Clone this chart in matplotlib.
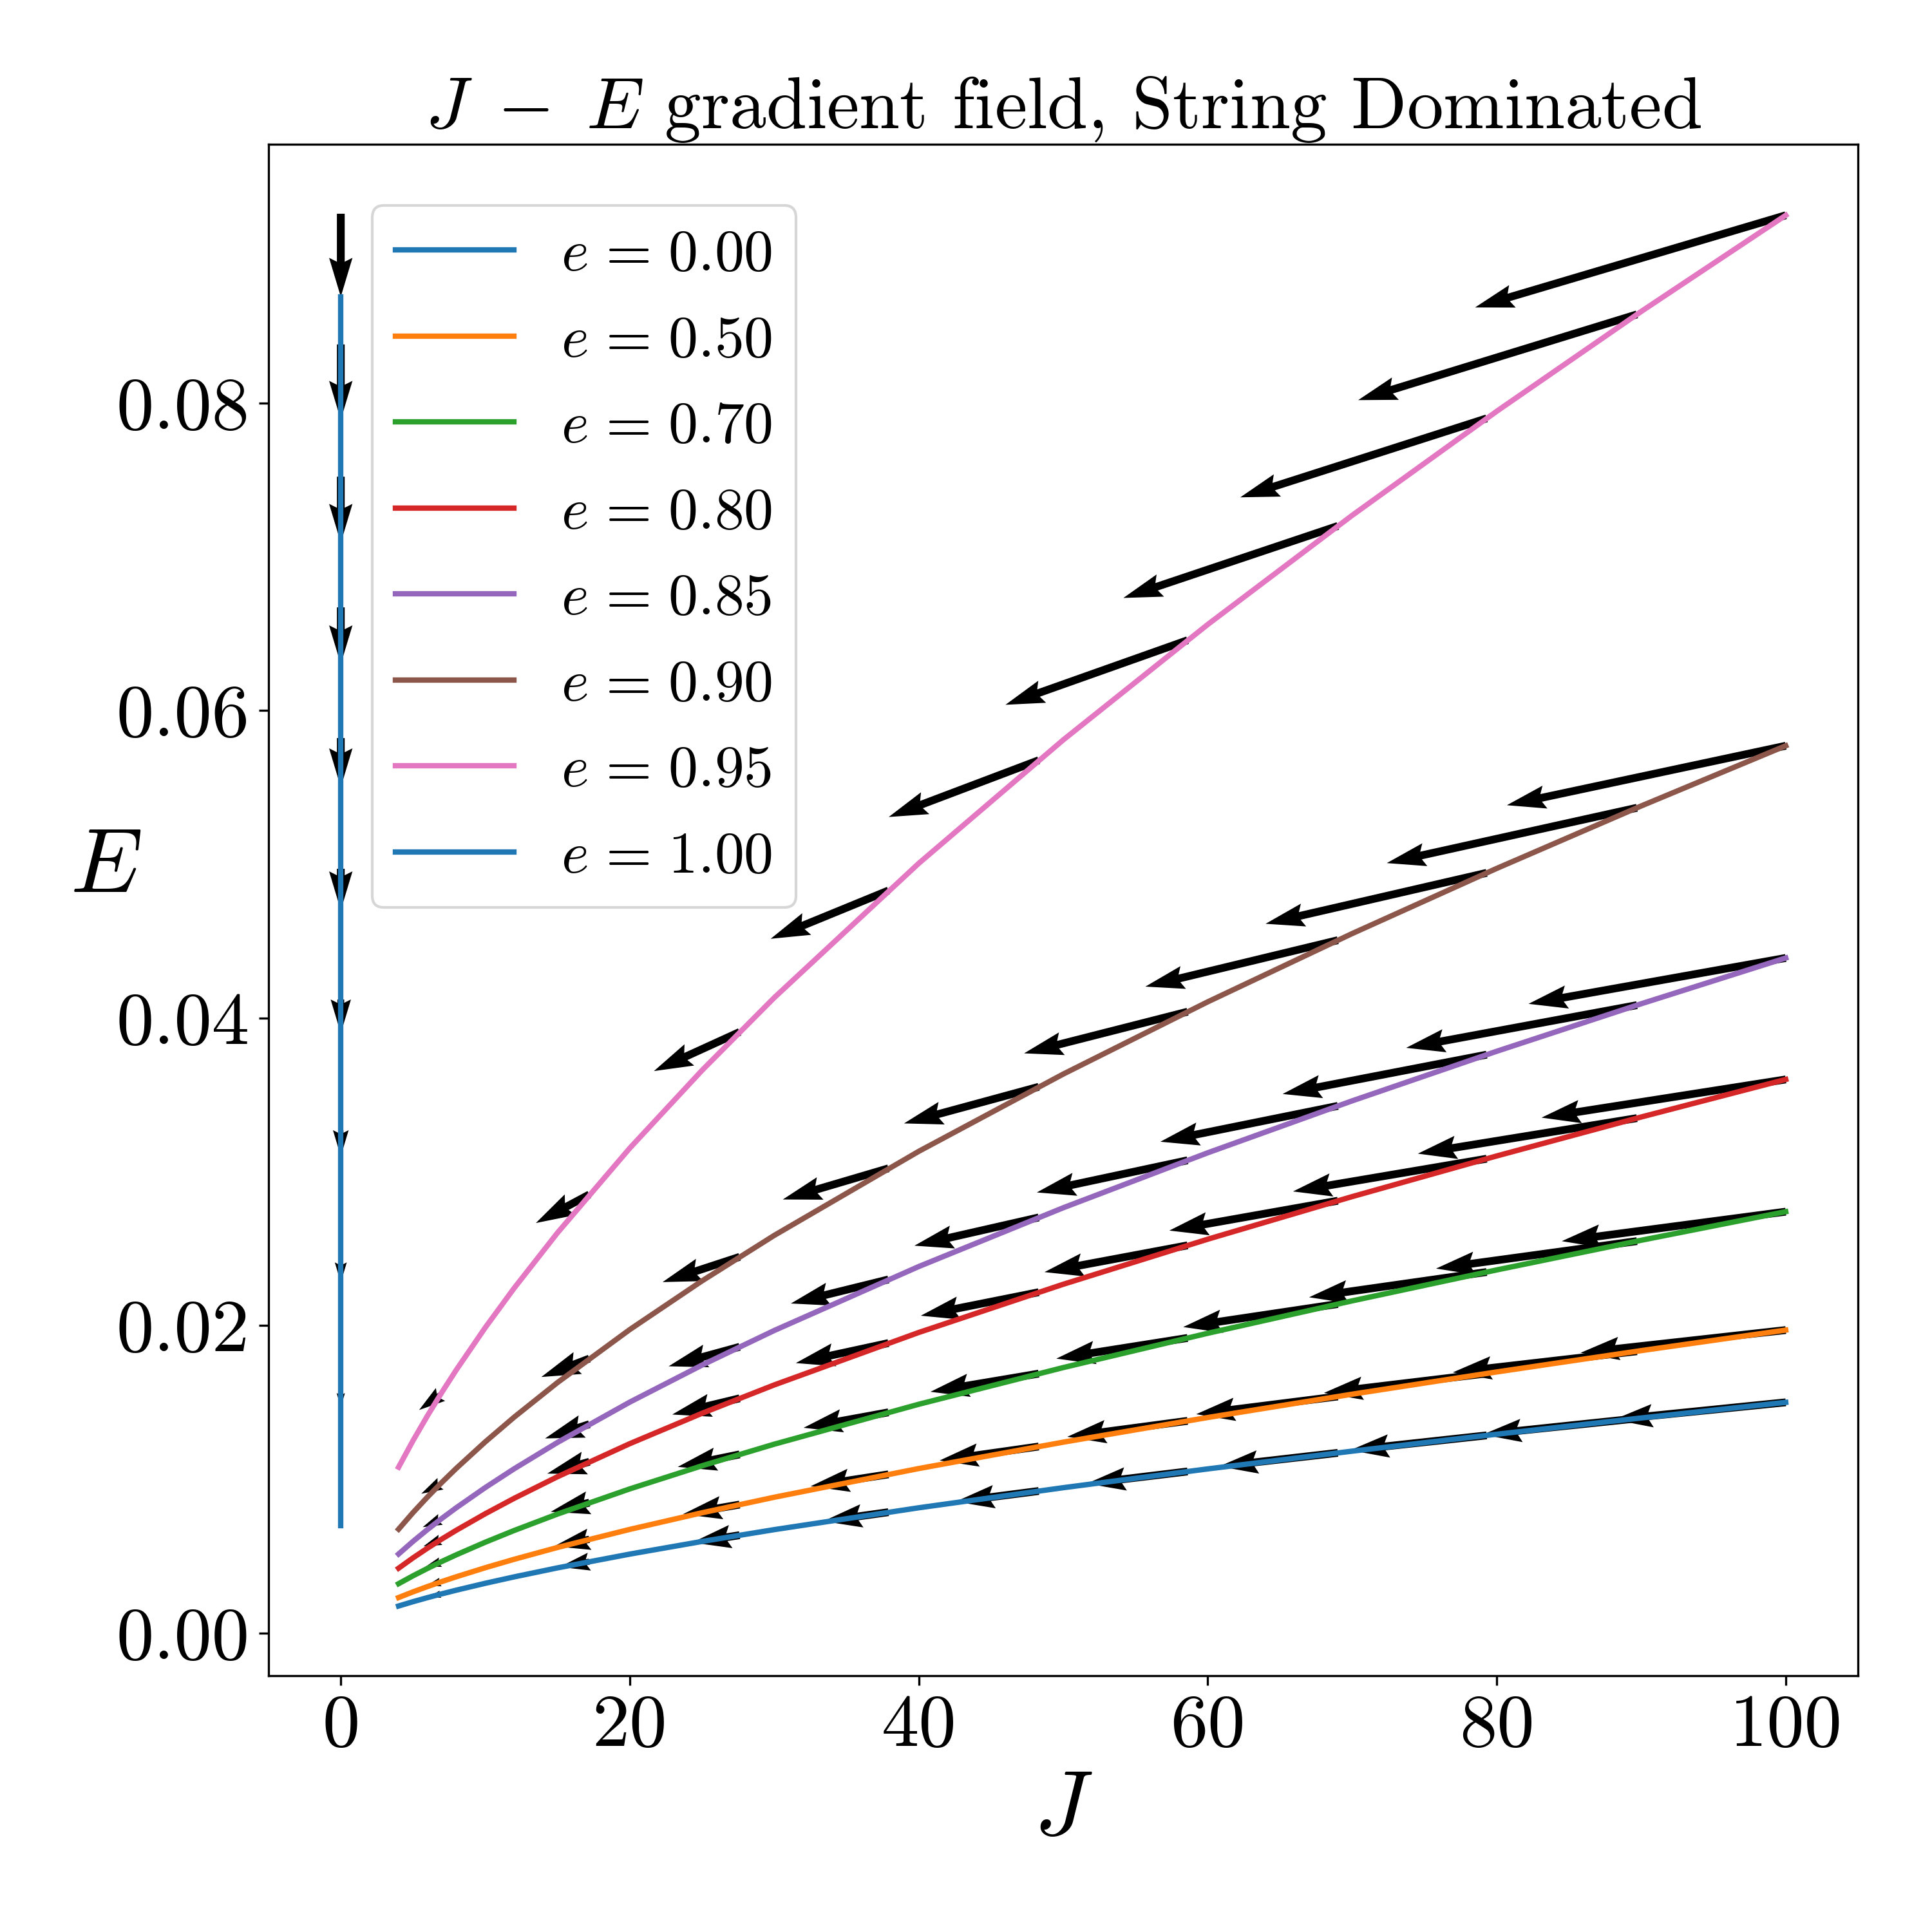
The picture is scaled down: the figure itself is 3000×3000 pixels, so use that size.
import matplotlib
matplotlib.use('Agg')
import matplotlib.pyplot as plt

# Fuente tipo LaTeX (Computer Modern)
plt.rcParams['font.family'] = 'serif'
plt.rcParams['font.serif'] = ['cmr10']
plt.rcParams['mathtext.fontset'] = 'cm'
plt.rcParams['axes.unicode_minus'] = False

# Valores de excentricidad
e_labels = ['0.00', '0.50', '0.70', '0.80', '0.85', '0.90', '0.95']
colors = ['C0', 'C1', 'C2', 'C3', 'C4', 'C5', 'C6']

# Curvas E(J)
J_curve = [4, 5, 6, 7, 8, 10, 12, 15, 20, 25, 30, 40, 50, 60, 70, 80, 90, 100]
E_e000 = [0.001754, 0.002036, 0.002299, 0.002548, 0.002785, 0.003232, 0.003649, 0.004235, 0.005130,
          0.005953, 0.006722, 0.008143, 0.009449, 0.010671, 0.011826, 0.012927, 0.013983, 0.0150]
E_e050 = [0.002304, 0.002674, 0.003019, 0.003346, 0.003658, 0.004244, 0.004793, 0.005562, 0.006737,
          0.007818, 0.008828, 0.010695, 0.012410, 0.014014, 0.015531, 0.016977, 0.018364, 0.0197]
E_e070 = [0.003205, 0.003719, 0.004199, 0.004654, 0.005087, 0.005903, 0.006666, 0.007735, 0.009371,
          0.010874, 0.012279, 0.014875, 0.017261, 0.019492, 0.021601, 0.023612, 0.025541, 0.0274]
E_e080 = [0.004211, 0.004886, 0.005517, 0.006115, 0.006684, 0.007756, 0.008758, 0.010163, 0.012312,
          0.014287, 0.016133, 0.019544, 0.022679, 0.025610, 0.028381, 0.031024, 0.033558, 0.0360]
E_e085 = [0.005135, 0.005958, 0.006728, 0.007456, 0.008150, 0.009458, 0.010680, 0.012393, 0.015014,
          0.017422, 0.019673, 0.023832, 0.027655, 0.031230, 0.034609, 0.037832, 0.040922, 0.0439]
E_e090 = [0.006749, 0.007831, 0.008843, 0.009800, 0.010713, 0.012431, 0.014037, 0.016289, 0.019733,
          0.022898, 0.025858, 0.031324, 0.036349, 0.041047, 0.045489, 0.049724, 0.053786, 0.0577]
E_e095 = [0.010784, 0.012513, 0.014131, 0.015660, 0.017118, 0.019864, 0.022430, 0.026029, 0.031532,
          0.036590, 0.041319, 0.050054, 0.058082, 0.065589, 0.072688, 0.079455, 0.085946, 0.0922]
E_curves = [E_e000, E_e050, E_e070, E_e080, E_e085, E_e090, E_e095]

# Curva e = 1 (J = 0)
J_e100 = [0, 0]
E_e100 = [0.0070, 0.0869]

# Flechas del gradiente sobre cada curva
J_arrow = [6.9, 17.2, 27.6, 37.9, 48.3, 58.6, 69.0, 79.3, 89.7, 100.0]
Ea_e000 = [0.002523, 0.004639, 0.006359, 0.007856, 0.009234, 0.010504, 0.011713, 0.012851, 0.013951, 0.0150]
Ea_e050 = [0.003314, 0.006093, 0.008351, 0.010317, 0.012127, 0.013795, 0.015383, 0.016878, 0.018323, 0.0197]
Ea_e070 = [0.004610, 0.008474, 0.011615, 0.014350, 0.016867, 0.019187, 0.021395, 0.023475, 0.025484, 0.0274]
Ea_e080 = [0.006056, 0.011134, 0.015261, 0.018854, 0.022162, 0.025209, 0.028111, 0.030843, 0.033483, 0.0360]
Ea_e085 = [0.007385, 0.013577, 0.018610, 0.022991, 0.027025, 0.030741, 0.034279, 0.037611, 0.040831, 0.0439]
Ea_e090 = [0.009707, 0.017845, 0.024460, 0.030218, 0.035520, 0.040404, 0.045055, 0.049434, 0.053666, 0.0577]
Ea_e095 = [0.015511, 0.028516, 0.039085, 0.048286, 0.056758, 0.064563, 0.071994, 0.078991, 0.085754, 0.0922]
E_arrows = [Ea_e000, Ea_e050, Ea_e070, Ea_e080, Ea_e085, Ea_e090, Ea_e095]

dJ_e000 = [-0.82, -2.05, -3.28, -4.51, -5.75, -6.97, -8.21, -9.44, -10.67, -11.9]
dJ_e050 = [-0.98, -2.44, -3.92, -5.38, -6.86, -8.32, -9.80, -11.26, -12.74, -14.2]
dJ_e070 = [-1.07, -2.67, -4.28, -5.87, -7.49, -9.08, -10.70, -12.29, -13.90, -15.5]
dJ_e080 = [-1.17, -2.91, -4.66, -6.41, -8.16, -9.90, -11.66, -13.40, -15.16, -16.9]
dJ_e085 = [-1.23, -3.06, -4.91, -6.75, -8.60, -10.43, -12.28, -14.12, -15.97, -17.8]
dJ_e090 = [-1.33, -3.32, -5.33, -7.31, -9.32, -11.31, -13.32, -15.30, -17.31, -19.3]
dJ_e095 = [-1.48, -3.70, -5.93, -8.15, -10.38, -12.60, -14.84, -17.05, -19.29, -21.5]
dJ_arrows = [dJ_e000, dJ_e050, dJ_e070, dJ_e080, dJ_e085, dJ_e090, dJ_e095]

dE_e000 = [-0.000189, -0.000348, -0.000477, -0.000589, -0.000693, -0.000788, -0.000878, -0.000964, -0.001046, -0.001125]
dE_e050 = [-0.000249, -0.000457, -0.000626, -0.000774, -0.000910, -0.001035, -0.001154, -0.001266, -0.001374, -0.001478]
dE_e070 = [-0.000323, -0.000593, -0.000813, -0.001005, -0.001181, -0.001343, -0.001498, -0.001643, -0.001784, -0.001918]
dE_e080 = [-0.000418, -0.000768, -0.001053, -0.001301, -0.001529, -0.001739, -0.001940, -0.002128, -0.002310, -0.002484]
dE_e085 = [-0.000502, -0.000923, -0.001265, -0.001563, -0.001838, -0.002090, -0.002331, -0.002558, -0.002777, -0.002985]
dE_e090 = [-0.000650, -0.001196, -0.001639, -0.002025, -0.002380, -0.002707, -0.003019, -0.003312, -0.003596, -0.003866]
dE_e095 = [-0.001008, -0.001854, -0.002541, -0.003139, -0.003689, -0.004197, -0.004680, -0.005134, -0.005574, -0.005993]
dE_arrows = [dE_e000, dE_e050, dE_e070, dE_e080, dE_e085, dE_e090, dE_e095]

# Flechas para e = 1
E_arrow_e100 = [0.0156, 0.0241, 0.0327, 0.0412, 0.0497, 0.0582, 0.0667, 0.0752, 0.0838, 0.0923]
dE_arrow_e100 = [-0.0009, -0.0013, -0.0017, -0.0022, -0.0027, -0.0032, -0.0037, -0.0043, -0.0049, -0.0054]

fig, ax = plt.subplots(figsize=(10, 10), dpi=300)
fig.subplots_adjust(left=0.139, right=0.9617, bottom=0.1327, top=0.9254)

qkw = dict(angles='xy', scale_units='xy', scale=1, width=0.0049, color='k')

for lab, col, E, Ea, dJ, dE in zip(e_labels, colors, E_curves, E_arrows, dJ_arrows, dE_arrows):
    ax.plot(J_curve, E, color=col, lw=2, label=r'$e\hspace{0.13}=\hspace{0.13}' + lab + '$')
    ax.quiver(J_arrow, Ea, dJ, dE, **qkw)

ax.plot(J_e100, E_e100, color='C0', lw=2, label=r'$e\hspace{0.13}=\hspace{0.13}1.00$')
ax.quiver([0] * len(E_arrow_e100), E_arrow_e100, [0] * len(E_arrow_e100), dE_arrow_e100, **qkw)

ax.set_title(r'$J\hspace{0.3}-\hspace{0.3}E$ gradient field, String Dominated', fontsize=27.2)
ax.set_xlabel('$J$', fontsize=34)
ax.set_ylabel('$E$', fontsize=34, rotation=0)
ax.tick_params(labelsize=28)
ax.set_xticks([0, 20, 40, 60, 80, 100])
ax.set_yticks([0.00, 0.02, 0.04, 0.06, 0.08])
ax.set_yticklabels(['0.00', '0.02', '0.04', '0.06', '0.08'])

ax.legend(loc='upper left', bbox_to_anchor=(0.0651, 0.9598), borderaxespad=0,
          fontsize=22, labelspacing=0.56)

plt.savefig('out.png', dpi=300)
